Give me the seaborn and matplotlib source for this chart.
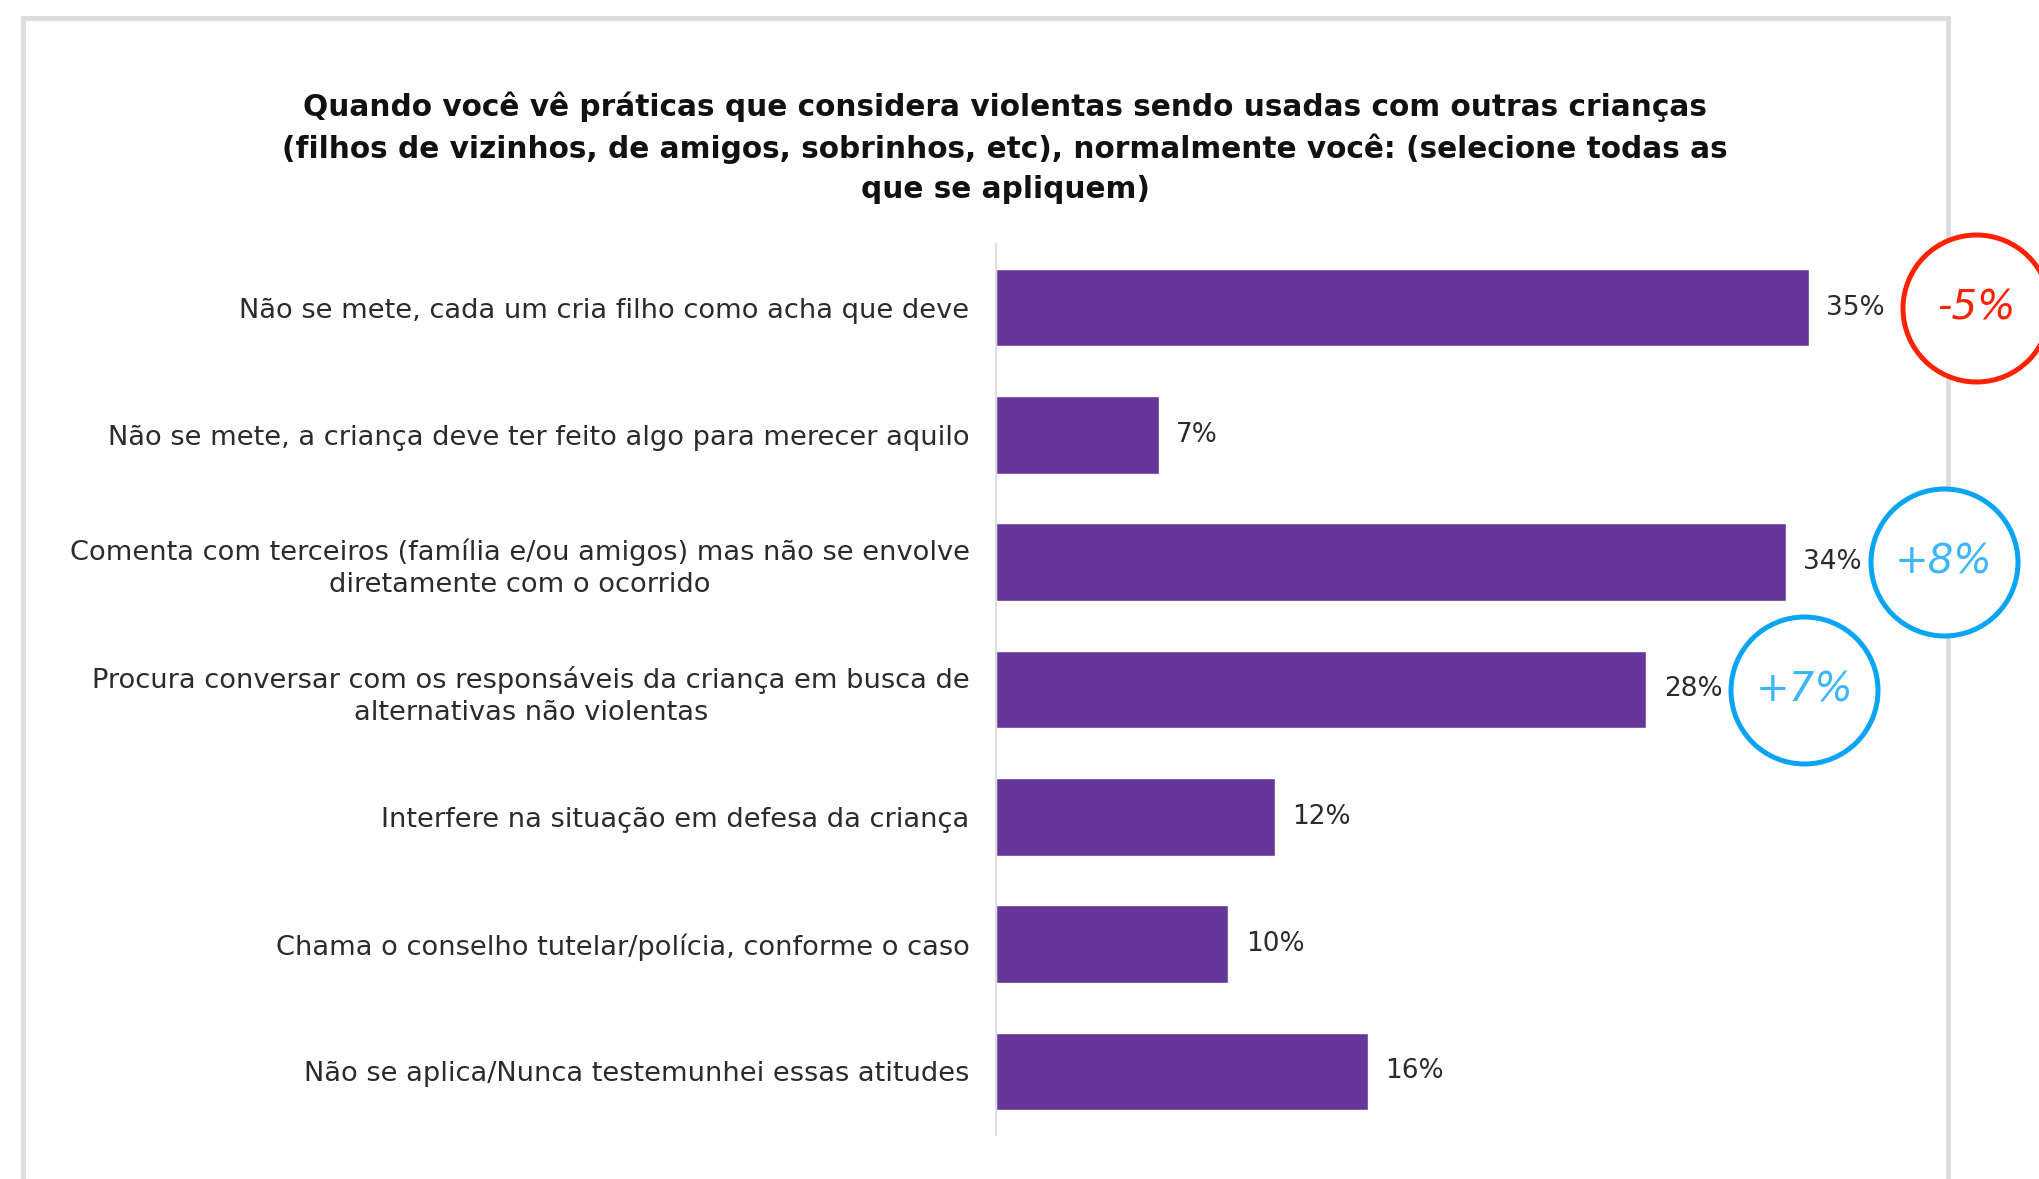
import matplotlib
matplotlib.use('Agg')
import matplotlib.pyplot as plt
import seaborn as sns
import pandas as pd
from matplotlib.patches import Rectangle

# dados
categorias = [
    'Não se mete, cada um cria filho como acha que deve',
    'Não se mete, a criança deve ter feito algo para merecer aquilo',
    'Comenta com terceiros (família e/ou amigos) mas não se envolve\ndiretamente com o ocorrido',
    'Procura conversar com os responsáveis da criança em busca de\nalternativas não violentas',
    'Interfere na situação em defesa da criança',
    'Chama o conselho tutelar/polícia, conforme o caso',
    'Não se aplica/Nunca testemunhei essas atitudes',
]
valores = [35, 7, 34, 28, 12, 10, 16]
variacoes = ['-5%', None, '+8%', '+7%', None, None, None]

titulo = ('Quando você vê práticas que considera violentas sendo usadas com outras crianças\n'
          '(filhos de vizinhos, de amigos, sobrinhos, etc), normalmente você: (selecione todas as\n'
          'que se apliquem)')

sns.set_style('white')
plt.rcParams['font.family'] = ['DejaVu Sans']

df = pd.DataFrame({'categoria': categorias, 'valor': valores})

W, H = 2039, 1179
fig = plt.figure(figsize=(W / 100, H / 100), dpi=100)
fig.patch.set_facecolor('white')

# moldura cinza (atrás do gráfico)
fig.add_artist(Rectangle((23 / W, -0.05), (1948 - 23) / W, 1.05 - 18 / H,
                         transform=fig.transFigure, fill=False,
                         edgecolor='#dcdcdc', linewidth=3.5, zorder=-5))

ax = fig.add_axes([996 / W, 1 - 1135 / H, (W - 996) / W, (1135 - 244) / H])
sns.barplot(data=df, x='valor', y='categoria', color='#66369a',
            saturation=1, width=0.61, ax=ax, orient='h')

ax.set_xlim(0, (W - 996) / 23.23)
ax.set_ylim(6.5, -0.5)
ax.set_xlabel('')
ax.set_ylabel('')
ax.set_xticks([])
for s in ['top', 'right', 'bottom']:
    ax.spines[s].set_visible(False)
ax.spines['left'].set_color('#dddddd')
ax.spines['left'].set_linewidth(1.5)
ax.patch.set_alpha(0)

ax.tick_params(axis='y', length=0, pad=19, labelsize=19.6, labelcolor='#2b2b2b')
for lbl in ax.get_yticklabels():
    lbl.set_multialignment('center')
    lbl.set_linespacing(1.3)

# rótulos de valor
for i, v in enumerate(valores):
    ax.text(v + 0.75, i, f'{v}%', va='center', ha='left', fontsize=19, color='#2b2b2b')

# círculos de variação
for i, (v, var) in enumerate(zip(valores, variacoes)):
    if var is None:
        continue
    cor = '#ff2200' if var.startswith('-') else '#0aa4f5'
    cor_txt = '#ff2200' if var.startswith('-') else '#3db6f7'
    x0 = v + 7.2 if var.startswith('-') else v + 6.8
    ax.scatter([x0], [i], s=11200, facecolor='white', edgecolor=cor,
               linewidth=3.6, clip_on=False, zorder=5)
    ax.text(x0, i, var, ha='center', va='center', fontsize=29,
            style='italic', color=cor_txt, zorder=6, clip_on=False)

fig.text(1005 / W, 1 - 148 / H, titulo, ha='center', va='center',
         multialignment='center', fontsize=21.3, fontweight='bold',
         color='#111111', linespacing=1.47)

fig.savefig('out.png', dpi=100)
